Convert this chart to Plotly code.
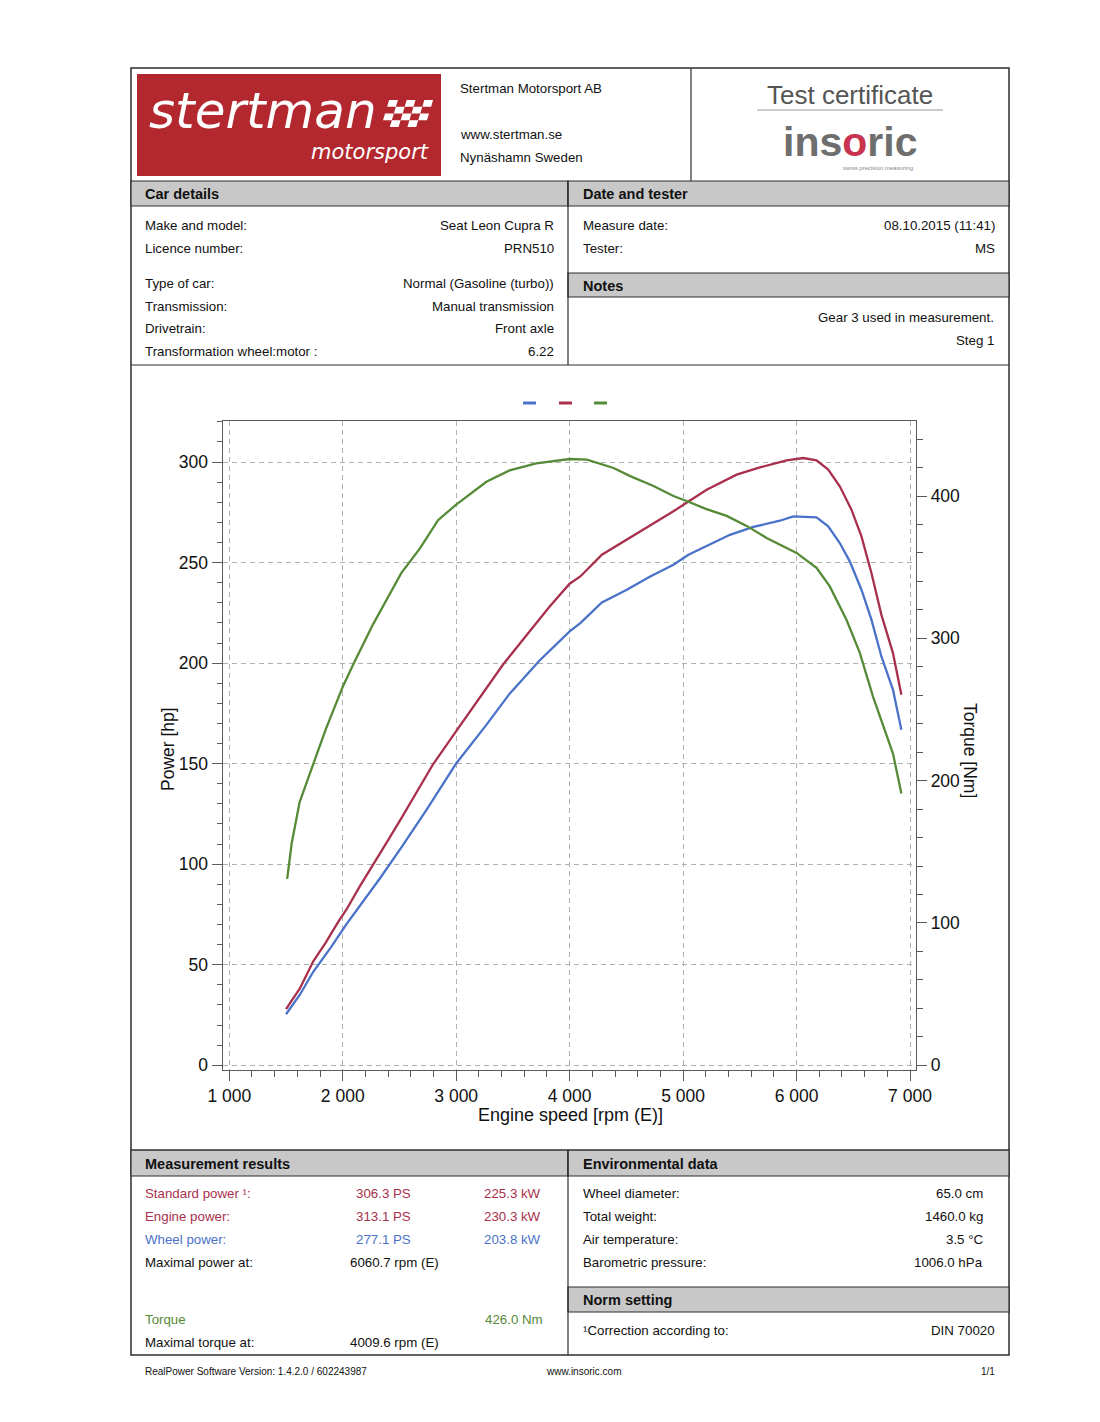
import plotly.graph_objects as go

W, H = 1100, 1422

# ---------------- data ----------------
rpm_torque = [1510, 1550, 1620, 1740, 1850, 1960, 2000, 2107, 2268, 2400, 2517, 2679,
              2840, 3000, 3150, 3266, 3471, 3706, 4000, 4152, 4387, 4534, 4739, 4915,
              5047, 5200, 5384, 5560, 5736, 5912, 6000, 6176, 6293, 6440, 6557, 6674,
              6850, 6924]
torque_nm = [131, 156, 185, 211, 236, 258, 266, 284, 310, 329, 346, 363,
             383, 394, 403, 410, 418, 423, 426, 425.5, 419.7, 414, 407, 400,
             396, 391, 386, 379, 370.5, 363.5, 360, 349.5, 336.5, 313, 290, 259,
             219, 191]

rpm_std = [1500, 1622, 1740, 1850, 1960, 2033, 2150, 2268, 2400, 2517, 2650, 2796,
           3000, 3207, 3413, 3618, 3824, 4000, 4094, 4284, 4504, 4710, 4915, 5047,
           5208, 5472, 5677, 5912, 6059, 6176, 6279, 6381, 6484, 6572, 6660, 6748,
           6850, 6924]
power_std_hp = [27.9, 38.2, 51.7, 61, 71.3, 77.5, 89, 100.2, 112, 122.9, 136, 149.7,
                166.2, 182.7, 199.3, 213.7, 228.2, 239.5, 243.1, 253.9, 261.4, 268.3, 275.5, 280.4,
                286.2, 293.7, 297.3, 300.8, 302.0, 300.8, 296.2, 287.9, 276.3, 263.0, 244.8, 224.0,
                205.0, 184.3]

rpm_wheel = [1500, 1622, 1740, 1900, 2033, 2180, 2327, 2517, 2738, 3000, 3266, 3471,
             3735, 4000, 4094, 4284, 4504, 4710, 4915, 5047, 5237, 5413, 5619, 5853,
             5971, 6176, 6279, 6381, 6469, 6572, 6660, 6748, 6850, 6924]
power_wheel_hp = [25.4, 35.1, 46.5, 59, 70.2, 81.5, 92.9, 108.4, 127, 150.1, 169.3, 184.8,
                  201.3, 215.8, 219.9, 230.2, 236.5, 243.1, 248.9, 253.9, 258.9, 263.8, 267.7, 270.8,
                  273.0, 272.5, 268.0, 259.7, 250.6, 236.5, 221.6, 203.3, 186.7, 166.9]

x_range = [941.8, 7052.9]
power_range = [-2.34, 320.4]
torque_range = [-3.3, 452.7]

car_labels = ["Make and model:", "Licence number:", "Type of car:", "Transmission:",
              "Drivetrain:", "Transformation wheel:motor :"]
car_values = ["Seat Leon Cupra R", "PRN510", "Normal (Gasoline (turbo))",
              "Manual transmission", "Front axle", "6.22"]
date_labels = ["Measure date:", "Tester:"]
date_values = ["08.10.2015 (11:41)", "MS"]
notes = ["Gear 3 used in measurement.", "Steg 1"]

res_labels = ["Standard power \u00b9:", "Engine power:", "Wheel power:", "Maximal power at:"]
res_ps = ["306.3 PS", "313.1 PS", "277.1 PS", ""]
res_kw = ["225.3 kW", "230.3 kW", "203.8 kW", ""]
res_rpm = ["", "", "", "6060.7 rpm (E)"]
env_labels = ["Wheel diameter:", "Total weight:", "Air temperature:", "Barometric pressure:"]
env_values = ["65.0 cm", "1460.0 kg", "3.5 \u00b0C", "1006.0 hPa"]

# ---------------- styling ----------------
RED = "#a8304c"
BLUE = "#4a72c8"
GREEN = "#558a36"
LOGO_RED = "#b3282f"
GREYBAR = "#c8c8c8"
BORDER = "#2e2e2e"
FONT = "Liberation Sans"
TXT = "#111111"


def px(x):
    return x / W


def py(y):
    return 1 - y / H


shapes = []
anns = []


def rect(x0, y0, x1, y1, fill=None, color=BORDER, width=1.2):
    shapes.append(dict(type="rect", xref="paper", yref="paper",
                       x0=px(x0), x1=px(x1), y0=py(y1), y1=py(y0),
                       fillcolor=fill if fill else "rgba(0,0,0,0)",
                       line=dict(color=color, width=width), layer="below"))


def line(x0, y0, x1, y1, color=BORDER, width=1.2):
    shapes.append(dict(type="line", xref="paper", yref="paper",
                       x0=px(x0), x1=px(x1), y0=py(y0), y1=py(y1),
                       line=dict(color=color, width=width)))


def text(x, y, s, anchor="left", size=13.3, color=TXT, bold=False, family=FONT, angle=0):
    if bold:
        s = "<b>" + s + "</b>"
    anns.append(dict(x=px(x), y=py(y), xref="paper", yref="paper", text=s,
                     showarrow=False, xanchor=anchor, yanchor="middle",
                     textangle=angle, borderpad=0,
                     font=dict(family=family, size=size, color=color)))


# ---------------- page frame ----------------
rect(131, 68, 1009, 1355, width=1.5)
line(691, 68, 691, 181)

# logo
rect(137, 74, 441, 176, fill=LOGO_RED, color=LOGO_RED, width=0)
text(148, 111, "<i>stertman</i>", size=50, color="white", family="DejaVu Sans")
text(430, 152, "<i>motorsport</i>", anchor="right", size=21, color="white", family="DejaVu Sans")
fx0, fy0, fx1, fy1 = 381, 100, 425, 127
ncol, nrow = 5, 4
cw, rh = (fx1 - fx0) / ncol, (fy1 - fy0) / nrow
sk = 0.3
for r in range(nrow):
    for c in range(ncol):
        if (r + c) % 2 == 0:
            yt, yb = fy0 + r * rh, fy0 + (r + 1) * rh
            xl = fx0 + c * cw
            pts = [(xl + (fy1 - yt) * sk, yt), (xl + cw + (fy1 - yt) * sk, yt),
                   (xl + cw + (fy1 - yb) * sk, yb), (xl + (fy1 - yb) * sk, yb)]
            path = "M " + " L ".join(f"{px(a):.5f},{py(b):.5f}" for a, b in pts) + " Z"
            shapes.append(dict(type="path", xref="paper", yref="paper", path=path,
                               fillcolor="white", line=dict(width=0)))

text(459, 89, "Stertman Motorsport AB")
text(459, 134, "www.stertman.se")
text(459, 157, "Nyn\u00e4shamn Sweden")

text(850, 95, "Test certificate", anchor="center", size=26, color="#555555")
line(757, 110, 943, 110, color="#9a9a9a", width=1)
text(850, 142, "<b>ins<span style='color:#c8334f'>o</span>ric</b>", anchor="center",
     size=41, color="#6e6e6e")
text(878, 168, "swiss precision measuring", anchor="center", size=6, color="#888888")

# car details / date / notes
rect(131, 181, 568, 206, fill=GREYBAR)
rect(568, 181, 1009, 206, fill=GREYBAR)
text(144, 194, "Car details", bold=True, size=14.5)
text(582, 194, "Date and tester", bold=True, size=14.5)
line(568, 181, 568, 365)
car_y = [226, 249, 283, 306, 328, 351]
for lab, val, yy in zip(car_labels, car_values, car_y):
    text(144, yy, lab)
    text(555, yy, val, anchor="right")
for lab, val, yy in zip(date_labels, date_values, [226, 249]):
    text(582, yy, lab)
    text(996, yy, val, anchor="right")
rect(568, 273, 1009, 297, fill=GREYBAR)
text(582, 286, "Notes", bold=True, size=14.5)
for nt, yy in zip(notes, [317, 340]):
    text(995, yy, nt, anchor="right")
line(131, 365, 1009, 365)

# chart legend (short dashes)
for c, xa in zip([BLUE, RED, GREEN], [523, 559, 594]):
    line(xa, 403, xa + 13, 403, color=c, width=3)

# axis titles
text(168, 749, "Power [hp]", anchor="center", size=17.5, angle=-90)
text(970, 750, "Torque [Nm]", anchor="center", size=17.5, angle=90)
text(570, 1115, "Engine speed [rpm (E)]", anchor="center", size=18)

# measurement results / environmental data
line(131, 1150, 1009, 1150)
rect(131, 1150, 568, 1176, fill=GREYBAR)
rect(568, 1150, 1009, 1176, fill=GREYBAR)
text(144, 1164, "Measurement results", bold=True, size=14.5)
text(582, 1164, "Environmental data", bold=True, size=14.5)
line(568, 1150, 568, 1355)
res_colors = [RED, RED, BLUE, TXT]
res_y = [1193, 1216, 1239, 1262]
for lab, ps, kw, rp, col, yy in zip(res_labels, res_ps, res_kw, res_rpm, res_colors, res_y):
    text(144, yy, lab, color=col)
    if ps:
        text(412, yy, ps, anchor="right", color=col)
    if kw:
        text(542, yy, kw, anchor="right", color=col)
    if rp:
        text(349, yy, rp)
text(144, 1319, "Torque", color=GREEN)
text(544, 1319, "426.0 Nm", anchor="right", color=GREEN)
text(144, 1342, "Maximal torque at:")
text(349, 1342, "4009.6 rpm (E)")
for lab, val, yy in zip(env_labels, env_values, res_y):
    text(582, yy, lab)
    text(984, yy, val, anchor="right")
rect(568, 1287, 1009, 1312, fill=GREYBAR)
text(582, 1300, "Norm setting", bold=True, size=14.5)
text(582, 1330, "\u00b9Correction according to:")
text(996, 1330, "DIN 70020", anchor="right")

# footer
text(144, 1371, "RealPower Software Version: 1.4.2.0 / 602243987", size=10)
text(583, 1371, "www.insoric.com", anchor="center", size=10)
text(996, 1371, "1/1", anchor="right", size=10)

# ---------------- traces ----------------
fig = go.Figure()
fig.add_trace(go.Scatter(x=rpm_wheel, y=power_wheel_hp, mode="lines", name="Wheel power",
                         line=dict(color=BLUE, width=2.3), yaxis="y"))
fig.add_trace(go.Scatter(x=rpm_std, y=power_std_hp, mode="lines", name="Standard power",
                         line=dict(color=RED, width=2.3), yaxis="y"))
fig.add_trace(go.Scatter(x=rpm_torque, y=torque_nm, mode="lines", name="Torque",
                         line=dict(color=GREEN, width=2.3), yaxis="y2"))

axis_font = dict(family=FONT, size=17.5, color=TXT)
AX = "#5a5a5a"
GRID = "#b0b0b0"

fig.update_layout(
    template="none",
    width=W, height=H, autosize=False,
    margin=dict(l=0, r=0, t=0, b=0, pad=0, autoexpand=False),
    paper_bgcolor="white", plot_bgcolor="white", showlegend=False,
    separators=". ",
    xaxis=dict(domain=[px(222.7), px(916)], range=x_range, tick0=1000, dtick=1000,
               automargin=False,
               separatethousands=True, showgrid=True, gridcolor=GRID, griddash="5px,4px",
               gridwidth=1, zeroline=False, showline=True, linecolor=AX, linewidth=1.3,
               mirror=True, ticks="outside", ticklen=10, tickcolor=AX, tickwidth=1.2,
               tickfont=axis_font,
               minor=dict(dtick=200, tick0=1000, ticks="outside", ticklen=6,
                          tickcolor=AX, showgrid=False)),
    yaxis=dict(domain=[py(1070), py(421)], range=power_range, tick0=0, dtick=50,
               automargin=False,
               showgrid=True, gridcolor=GRID, griddash="5px,4px", gridwidth=1,
               zeroline=False, showline=True, linecolor=AX, linewidth=1.3, mirror=True,
               ticks="outside", ticklen=10, tickcolor=AX, tickwidth=1.2, tickfont=axis_font,
               minor=dict(dtick=10, tick0=0, ticks="outside", ticklen=5,
                          tickcolor=AX, showgrid=False)),
    yaxis2=dict(overlaying="y", side="right", range=torque_range, tick0=0, dtick=100,
                automargin=False,
                showgrid=False, zeroline=False, showline=True, linecolor=AX, linewidth=1.3,
                ticks="outside", ticklen=10, tickcolor=AX, tickwidth=1.2, tickfont=axis_font,
                minor=dict(dtick=20, tick0=0, ticks="outside", ticklen=6,
                           tickcolor=AX, showgrid=False)),
    shapes=shapes, annotations=anns,
)

fig.write_html("out.html", config={"displayModeBar": False},
               post_script="document.body.style.margin='0px';")
